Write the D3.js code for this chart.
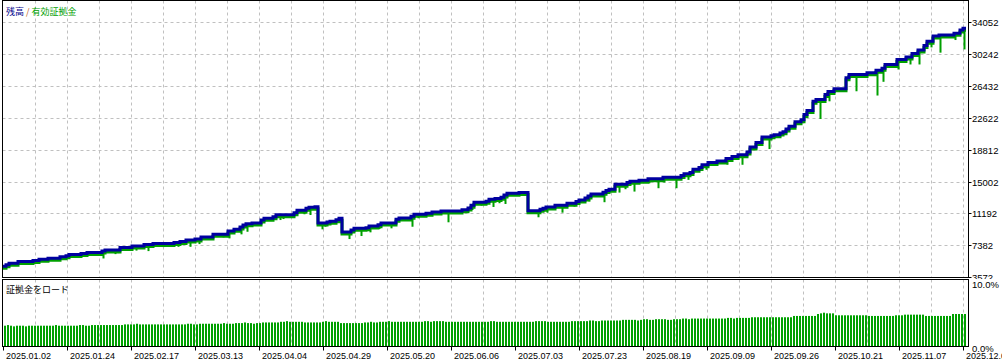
<!DOCTYPE html>
<html><head><meta charset="utf-8">
<script src="https://cdn.jsdelivr.net/npm/d3@7"></script>
<style>body{margin:0;background:#fff;overflow:hidden} svg{display:block}</style>
</head><body>
<svg id="c" width="1002" height="361"></svg>
<script>
// ---------------- data ----------------
const dateLabels = ["2025.01.02","2025.01.24","2025.02.17","2025.03.13","2025.04.04","2025.04.29","2025.05.20","2025.06.06","2025.07.03","2025.07.23","2025.08.19","2025.09.09","2025.09.26","2025.10.21","2025.11.07","2025.12.05"];
const yTicks = [3572, 7382, 11192, 15002, 18812, 22622, 26432, 30242, 34052];
const loadTickLabels = ["0.0%", "10.0%"];
const nTrades = 321;
// balance after each deal (trade index, balance)
const balIdx = [0,1,2,5,10,12,15,19,21,22,26,28,33,34,39,43,47,50,57,59,61,64,66,70,75,77,79,80,81,83,86,87,90,91,97,98,101,102,104,105,108,109,111,112,113,116,117,121,122,125,126,131,132,136,137,141,143,146,153,155,156,157,161,162,164,166,167,168,172,175,179,180,181,184,188,191,192,194,195,196,200,201,202,204,208,209,212,215,220,226,227,229,230,232,233,235,238,241,243,245,248,249,251,253,256,257,259,260,261,262,264,266,267,268,270,271,274,275,277,281,282,288,291,293,294,298,301,303,305,307,308,310,312,317,319,320];
const balVal = [4890,5070,5250,5450,5570,5730,5850,6000,6120,6290,6410,6530,6690,6810,7130,7290,7490,7610,7730,7850,8010,8130,8370,8690,9090,9290,9570,9800,9960,10040,10400,10610,10800,11040,11280,11570,11810,11930,12000,10040,10160,10250,10440,10610,8970,9210,9410,9480,9690,9840,10040,10490,10640,10850,11090,11210,11360,11480,11640,11840,12170,12530,12650,12890,12960,13130,13400,13600,13680,11520,11690,11810,11960,12170,12410,12600,12800,13040,13280,13520,13720,13920,14080,14680,14880,15040,15160,15320,15520,15710,15920,16070,16480,16670,17000,17270,17440,17750,17990,18200,18520,19120,19670,20320,20470,20590,20800,20950,21280,21590,22150,22390,22990,23470,24580,24790,25390,25750,26070,27390,27780,27990,28300,28540,28980,29580,29860,30300,30700,31260,31740,32370,32490,32700,33090,33300];
// equity lows (trade index, lowest equity)
const dipIdx = [11,18,23,25,33,37,38,44,48,53,58,62,65,73,75,79,81,92,93,100,102,106,107,114,115,119,122,125,129,136,138,142,148,156,159,163,165,167,178,181,186,190,195,200,205,207,210,215,218,220,224,228,234,238,241,246,255,272,275,284,291,293,298,302,305,309,312,317,320];
const dipVal = [5310,5550,5910,6030,5810,6330,6450,6750,6690,7170,7200,7200,7530,8330,8210,8690,9000,10400,10520,11090,11000,9290,9600,8810,8130,8490,8930,9330,9410,9600,10610,10880,10130,11600,12120,11960,12410,12320,10730,11280,11280,12000,12600,12530,13680,14080,13800,14800,14200,14880,14200,15200,16400,17120,17000,17000,18880,22470,24580,25780,25270,26910,28380,28980,28980,31020,30390,31900,30780];
// margin load per deal, %
const load = [
3.2,3.3,3.2,3.1,3.2,3.2,3.2,3.1,3.2,3.2,3.2,3.2,3.2,3.2,3.2,3.2,3.2,3.3,3.2,3.2,
3.2,3.2,3.2,3.2,3.2,3.3,3.3,3.2,3.2,3.3,3.3,3.3,3.3,3.3,3.3,3.3,3.3,3.3,3.3,3.3,
3.4,3.4,3.4,3.4,3.5,3.4,3.4,3.4,3.4,3.4,3.4,3.4,3.4,3.4,3.4,3.4,3.4,3.4,3.4,3.4,
3.4,3.5,3.5,3.4,3.4,3.5,3.5,3.5,3.5,3.5,3.5,3.5,3.5,3.6,3.5,3.5,3.5,3.6,3.6,3.6,
3.7,3.6,3.6,3.5,3.6,3.6,3.7,3.7,3.7,3.7,3.7,3.7,3.8,3.8,3.9,3.8,3.8,3.8,3.8,3.8,
3.7,3.7,3.7,3.7,3.7,3.7,3.8,3.9,3.8,3.8,3.8,3.8,3.6,3.6,3.6,3.6,3.6,3.6,3.6,3.6,
3.7,3.7,3.8,3.7,3.7,3.8,3.8,3.8,3.9,3.8,3.8,3.8,3.8,3.8,3.8,3.8,3.8,3.8,3.8,3.8,
3.9,3.9,3.8,3.9,3.9,3.9,3.9,3.8,3.8,3.8,3.8,3.8,3.8,3.8,3.8,3.8,3.8,3.8,3.8,3.8,
3.8,3.8,3.9,3.9,3.8,3.8,3.8,3.8,3.8,3.8,3.8,3.8,3.8,3.8,3.8,3.8,3.8,3.9,3.9,3.9,
3.9,3.8,3.8,3.8,3.8,3.8,3.8,3.8,3.8,3.9,3.9,3.9,3.9,3.9,3.9,4.0,4.0,3.9,3.9,4.0,
4.0,4.0,4.0,4.0,4.0,4.0,4.1,4.1,4.1,4.1,4.1,4.0,4.1,4.2,4.2,4.1,4.1,4.2,4.2,4.2,
4.2,4.1,4.1,4.2,4.2,4.2,4.3,4.3,4.2,4.3,4.3,4.3,4.3,4.3,4.3,4.3,4.3,4.3,4.3,4.3,
4.3,4.4,4.4,4.3,4.4,4.4,4.4,4.4,4.4,4.5,4.5,4.5,4.5,4.5,4.5,4.5,4.5,4.5,4.5,4.5,
4.5,4.5,4.5,4.7,4.7,4.7,4.7,4.7,4.7,4.7,4.7,5.0,5.1,5.2,5.1,5.1,5.1,4.8,4.8,4.8,
4.8,4.8,4.8,4.8,4.8,4.8,4.8,4.8,4.7,4.7,4.7,4.7,4.7,4.7,4.7,4.7,4.7,4.8,4.8,4.8,
4.9,4.9,4.9,4.9,4.9,4.9,4.9,4.7,4.7,4.7,4.7,4.7,4.7,4.7,4.7,4.7,5.0,5.0,5.0,5.0,5.0
];

// ---------------- drawing ----------------
const svg = d3.select('#c');
const L = 2.5, R = 968.5, mainTop = 0.5, mainBot = 277.5, subTop = 279.5, subBot = 346.5;
const BLUE = '#0000a0', GREEN = '#00a000', GRID = '#c0c0c0';
const x = d3.scaleLinear().domain([0, nTrades]).range([3, 966]);
const y = d3.scaleLinear().domain([3572, 34052]).range([277.2, 22]);
const yl = d3.scaleLinear().domain([0, 10]).range([346.5, 281.5]);

svg.append('rect').attr('width', 1002).attr('height', 361).attr('fill', '#fff');

const defs = svg.append('defs');
defs.append('clipPath').attr('id', 'mainClip').append('rect')
  .attr('x', 3).attr('y', 1).attr('width', R - 3.5).attr('height', mainBot - 1.5);
defs.append('clipPath').attr('id', 'axClip').append('rect')
  .attr('x', R).attr('y', 0).attr('width', 40).attr('height', 279);

// vertical grid (every 32px = 32/3 deals)
const gridStep = 32 / 3;
const vgrid = d3.range(1, 31).map(k => Math.round(x(k * gridStep)) + 0.5);
[[mainTop, mainBot], [subTop, subBot]].forEach(([t, b]) => {
  svg.append('g').selectAll('line').data(vgrid).join('line')
    .attr('x1', d => d).attr('x2', d => d).attr('y1', t).attr('y2', b)
    .attr('stroke', GRID).attr('stroke-dasharray', '3,3');
});
// horizontal grid
svg.append('g').selectAll('line').data(yTicks.slice(1)).join('line')
  .attr('x1', L).attr('x2', R)
  .attr('y1', d => Math.round(y(d)) + 0.5).attr('y2', d => Math.round(y(d)) + 0.5)
  .attr('stroke', GRID).attr('stroke-dasharray', '3,3');

// balance / equity
const balData = balIdx.map((d, i) => [d, balVal[i]]).concat([[nTrades, balVal[balVal.length - 1]]]);
const line = d3.line().x(d => x(d[0])).y(d => y(d[1])).curve(d3.curveStepAfter);
const plot = svg.append('g').attr('clip-path', 'url(#mainClip)');
plot.append('path').datum(balData).attr('d', line)
  .attr('fill', 'none').attr('stroke', GREEN).attr('stroke-width', 3)
  .attr('transform', 'translate(0,2)');
const balAt = i => balVal[d3.bisectRight(balIdx, i) - 1];
plot.append('g').selectAll('rect').data(dipIdx).join('rect')
  .attr('x', d => x(d) + 0.5).attr('width', 2)
  .attr('y', d => y(balAt(d)))
  .attr('height', (d, i) => y(dipVal[i]) - y(balAt(d)))
  .attr('fill', GREEN);
plot.append('path').datum(balData).attr('d', line)
  .attr('fill', 'none').attr('stroke', BLUE).attr('stroke-width', 3);

// load bars
svg.append('g').selectAll('rect').data(load).join('rect')
  .attr('x', (d, i) => x(i) + 1).attr('width', 2)
  .attr('y', d => yl(d)).attr('height', d => yl(0) - yl(d))
  .attr('fill', GREEN);

// frames
svg.append('rect').attr('x', L).attr('y', mainTop).attr('width', R - L).attr('height', mainBot - mainTop)
  .attr('fill', 'none').attr('stroke', '#000');
svg.append('rect').attr('x', L).attr('y', subTop).attr('width', R - L).attr('height', subBot - subTop)
  .attr('fill', 'none').attr('stroke', '#000');

// right axis (main)
const fontLat = 'Liberation Sans, Arial, sans-serif';
const yAx = svg.append('g').attr('clip-path', 'url(#axClip)');
yAx.selectAll('line').data(yTicks).join('line')
  .attr('x1', R).attr('x2', R + 3)
  .attr('y1', d => Math.round(y(d)) + 0.5).attr('y2', d => Math.round(y(d)) + 0.5)
  .attr('stroke', '#000');
yAx.selectAll('text').data(yTicks).join('text')
  .attr('x', 972).attr('y', d => y(d) + 4)
  .attr('font-family', fontLat).attr('font-size', '9.5px').attr('fill', '#000')
  .text(d => d);

// right axis (load)
svg.append('g').selectAll('text').data([0, 10]).join('text')
  .attr('x', 972).attr('y', d => yl(d) + (d === 0 ? 5 : 6))
  .attr('font-family', fontLat).attr('font-size', '9.5px').attr('fill', '#000')
  .text((d, i) => loadTickLabels[i]);

// x axis
const labelStep = 64 / 3;
const xt = svg.append('g');
xt.selectAll('line').data(dateLabels).join('line')
  .attr('x1', (d, i) => Math.round(x(i * labelStep)) + 0.5).attr('x2', (d, i) => Math.round(x(i * labelStep)) + 0.5)
  .attr('y1', subBot).attr('y2', subBot + 4).attr('stroke', '#000');
xt.selectAll('text').data(dateLabels).join('text')
  .attr('x', (d, i) => Math.round(x(i * labelStep)) + 3).attr('y', 358.5)
  .attr('font-family', fontLat).attr('font-size', '9px').attr('fill', '#000')
  .text(d => d);

// titles
const cjk = '"Noto Sans CJK JP", sans-serif';
const t = svg.append('text').attr('x', 6).attr('y', 15)
  .attr('font-family', cjk).attr('font-size', '9px');
t.append('tspan').attr('fill', '#00008b').text('残高');
t.append('tspan').attr('fill', '#c06020').text(' / ');
t.append('tspan').attr('fill', GREEN).text('有効証拠金');
svg.append('text').attr('x', 6).attr('y', 293)
  .attr('font-family', cjk).attr('font-size', '9px').attr('fill', '#000')
  .text('証拠金をロード');
</script>
</body></html>
